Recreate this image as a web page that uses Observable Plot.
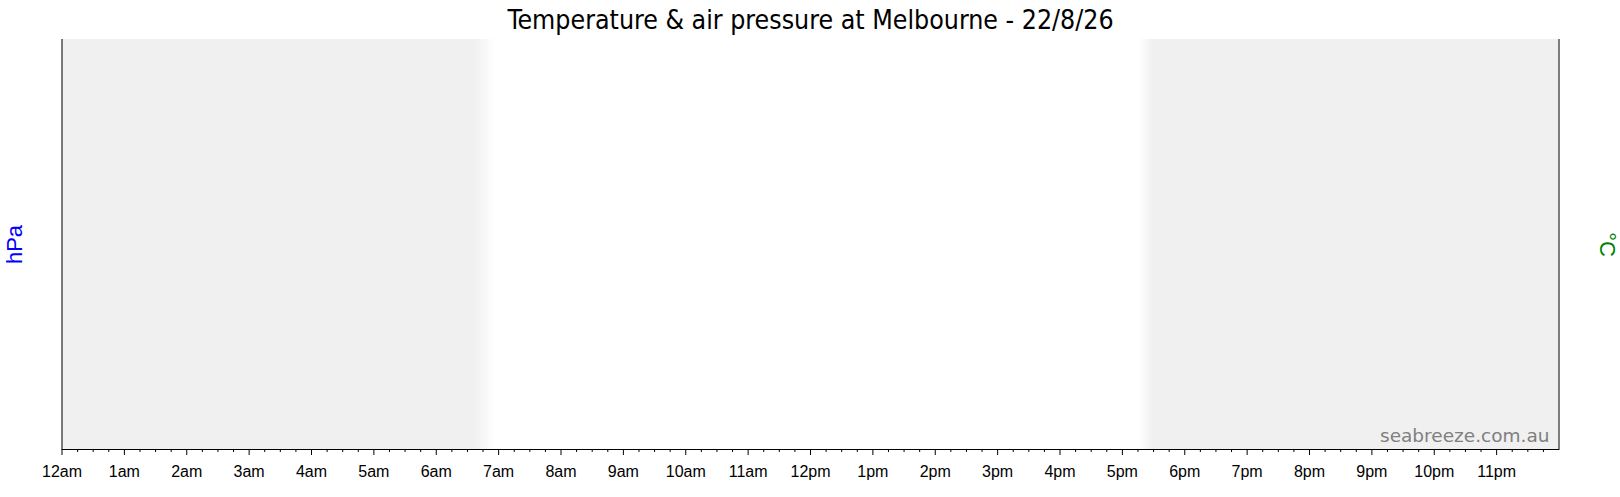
<!DOCTYPE html>
<html>
<head>
<meta charset="utf-8">
<script src="https://cdn.jsdelivr.net/npm/d3@7"></script>
<script src="https://cdn.jsdelivr.net/npm/@observablehq/plot@0.6"></script>
<style>
  html, body { margin: 0; padding: 0; background: #fff; }
  #chart svg { display: block; }
</style>
</head>
<body>
<div id="chart"></div>
<script>
// ---- data ----
const titleText = ["Temperature & air pressure at Melbourne - 22/8/26"];
const leftLabel = ["hPa"];
const rightLabel = ["°C"];
const watermark = ["seabreeze.com.au"];
const hourTicks = [0,1,2,3,4,5,6,7,8,9,10,11,12,13,14,15,16,17,18,19,20,21,22,23];
const hourLabels = ["12am","1am","2am","3am","4am","5am","6am","7am","8am","9am","10am","11am",
                    "12pm","1pm","2pm","3pm","4pm","5pm","6pm","7pm","8pm","9pm","10pm","11pm"];
const minorTicks = d3.range(0, 24, 0.25).filter(t => t % 1 !== 0);
// night bands (hours): start, fade region
const morningNight = [{x1: 0, x2: 6.95, fadeFrom: 6.6}];
const eveningNight = [{x1: 17.27, x2: 24, fadeTo: 17.5}];
const xDomain = [0, 24];

const NIGHT = "#f0f0f0";

const chart = Plot.plot({
  width: 1620,
  height: 497,
  marginLeft: 61.5,
  marginRight: 61.5,
  marginTop: 39,
  marginBottom: 48,
  style: {fontFamily: "Liberation Sans, Arial, sans-serif", background: "#fff"},
  x: {domain: xDomain, label: null},
  marks: [
    Plot.rectX(morningNight, {x1: "x1", x2: "x2", fill: "url(#gradMorning)"}),
    Plot.rectX(eveningNight, {x1: "x1", x2: "x2", fill: "url(#gradEvening)"}),
    Plot.axisX({ticks: minorTicks, tickSize: 3, tickFormat: null, text: null, stroke: "#000", label: null}),
    Plot.axisX({ticks: hourTicks, tickSize: 6, tickPadding: 10,
      tickFormat: (d) => hourLabels[hourTicks.indexOf(d)],
      fontSize: 16, fill: "#000", stroke: "#000", label: null}),
    Plot.ruleX(xDomain, {stroke: "#000", strokeWidth: 1}),
    Plot.frame({anchor: "bottom", stroke: "#000"}),
    Plot.text(titleText, {text: d => d, frameAnchor: "top", lineAnchor: "bottom", dy: -11,
      fontSize: 26.5, fontFamily: "DejaVu Sans Condensed, DejaVu Sans, sans-serif", fill: "#000"}),
    Plot.text(leftLabel, {text: d => d, frameAnchor: "left", textAnchor: "middle", dx: -47, rotate: -90,
      fontSize: 22, fill: "#0000ff"}),
    Plot.text(rightLabel, {text: d => d, frameAnchor: "right", textAnchor: "middle", dx: 48, rotate: 90,
      fontSize: 22, fill: "#008000"}),
    Plot.text(watermark, {text: d => d, frameAnchor: "bottom-right", textAnchor: "end", lineAnchor: "bottom",
      dx: -9.5, dy: -8, fontSize: 18.5, fontFamily: "DejaVu Sans, sans-serif", fill: "#7f7f7f"})
  ]
});

const m = morningNight[0], e = eveningNight[0];
const defs = d3.select(chart).insert("defs", ":first-child");
const g1 = defs.append("linearGradient").attr("id", "gradMorning").attr("x1", 0).attr("x2", 1).attr("y1", 0).attr("y2", 0);
g1.append("stop").attr("offset", 0).attr("stop-color", NIGHT);
g1.append("stop").attr("offset", (m.fadeFrom - m.x1) / (m.x2 - m.x1)).attr("stop-color", NIGHT);
g1.append("stop").attr("offset", 1).attr("stop-color", "#fff");
const g2 = defs.append("linearGradient").attr("id", "gradEvening").attr("x1", 0).attr("x2", 1).attr("y1", 0).attr("y2", 0);
g2.append("stop").attr("offset", 0).attr("stop-color", "#fff");
g2.append("stop").attr("offset", (e.fadeTo - e.x1) / (e.x2 - e.x1)).attr("stop-color", NIGHT);
g2.append("stop").attr("offset", 1).attr("stop-color", NIGHT);

document.getElementById("chart").appendChild(chart);
</script>
</body>
</html>
